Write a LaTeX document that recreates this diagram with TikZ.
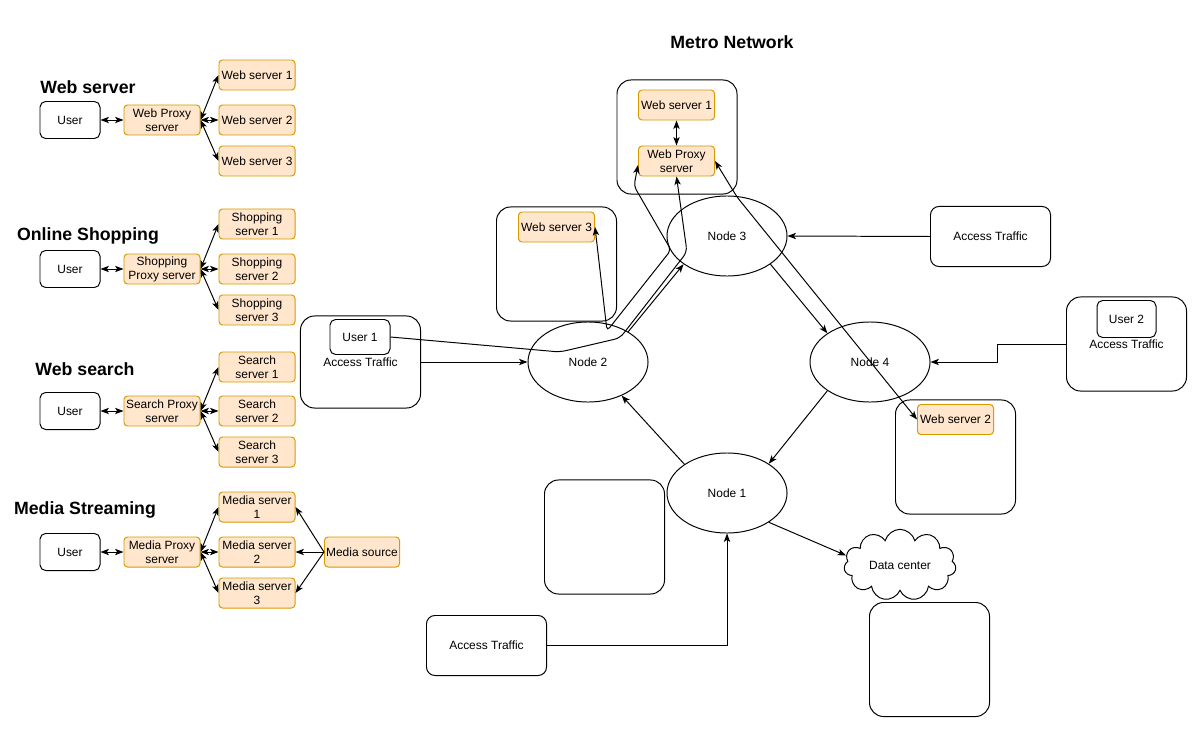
\documentclass[tikz,border=0pt]{standalone}
\usepackage{fontspec}
\setmainfont{Liberation Sans}
\usetikzlibrary{arrows.meta,shapes.geometric,shapes.symbols}
\definecolor{srvfill}{HTML}{FFE6CC}
\definecolor{srvline}{HTML}{D79B00}

\begin{document}
\begin{tikzpicture}[x=0.025cm, y=-0.025cm, line width=0.7pt,
  every node/.style={font=\fontsize{8.5}{10}\selectfont, align=center, inner sep=1pt},
  title/.style={font=\fontsize{12.6}{14}\selectfont\bfseries},
  userbox/.style={draw, rounded corners=4pt, fill=white, minimum width=1.5cm, minimum height=0.925cm},
  srv/.style={draw=srvline, fill=srvfill, rounded corners=2.5pt, minimum width=1.9cm, minimum height=0.75cm},
  site/.style={draw, rounded corners=10pt, fill=white, minimum width=3cm, minimum height=2.85cm},
  access/.style={draw, rounded corners=6pt, fill=white, minimum width=3cm, minimum height=1.5cm},
  metro/.style={draw, ellipse, minimum width=3cm, minimum height=2cm, inner sep=0pt},
  arr/.style={-{Stealth[length=6pt,width=4.5pt,inset=1.5pt]}},
  biarr/.style={{Stealth[length=6pt,width=4.5pt,inset=1.5pt]}-{Stealth[length=6pt,width=4.5pt,inset=1.5pt]}}]
  \useasboundingbox (0,0) rectangle (1200,728);

  % Web server group
  \node[title] (webtitle) at (88,87) {Web server};
  \node[userbox] (webuser) at (70,120) {User};
  \node[srv] (webproxy) at (162,120) {Web Proxy\\server};
  \draw[biarr] (webuser.east) -- (webproxy.west);
  \foreach \i/\y in {1/75,2/120,3/161}{
    \node[srv] (websrv\i) at (257,\y) {Web server \i};
    \draw[biarr] (webproxy.east) -- (websrv\i.west);
  }

  % Online shopping group
  \node[title] (shoptitle) at (88,236) {Online Shopping};
  \node[userbox] (shopuser) at (70,269) {User};
  \node[srv] (shopproxy) at (162,269) {Shopping\\Proxy server};
  \draw[biarr] (shopuser.east) -- (shopproxy.west);
  \foreach \i/\y in {1/224,2/269,3/310}{
    \node[srv] (shopsrv\i) at (257,\y) {Shopping\\server \i};
    \draw[biarr] (shopproxy.east) -- (shopsrv\i.west);
  }

  % Web search group
  \node[title] (searchtitle) at (85,369) {Web search};
  \node[userbox] (searchuser) at (70,411) {User};
  \node[srv] (searchproxy) at (162,411) {Search Proxy\\server};
  \draw[biarr] (searchuser.east) -- (searchproxy.west);
  \foreach \i/\y in {1/367,2/411,3/452}{
    \node[srv] (searchsrv\i) at (257,\y) {Search\\server \i};
    \draw[biarr] (searchproxy.east) -- (searchsrv\i.west);
  }

  % Media streaming group
  \node[title] (mediatitle) at (85,510) {Media Streaming};
  \node[userbox] (mediauser) at (70,552) {User};
  \node[srv] (mediaproxy) at (162,552) {Media Proxy\\server};
  \node[srv, minimum width=1.875cm] (mediasrc) at (362,552) {Media source};
  \draw[biarr] (mediauser.east) -- (mediaproxy.west);
  \foreach \i/\y in {1/507,2/552,3/593}{
    \node[srv] (mediasrv\i) at (257,\y) {Media server\\\i};
    \draw[biarr] (mediaproxy.east) -- (mediasrv\i.west);
    \draw[arr] (mediasrc.west) -- (mediasrv\i.east);
  }

  % Metro network
  \node[title] (metrotitle) at (732,42) {Metro Network};
  \node[site, minimum height=2.85cm] (sitetop) at (677,137) {};
  \node[srv] (mwsrv1) at (676.5,105) {Web server 1};
  \node[srv] (mproxy) at (676.5,161) {Web Proxy\\server};
  \node[site] (site3) at (556.5,264) {};
  \node[srv] (mwsrv3) at (556.5,227) {Web server 3};
  \node[site] (site2) at (955.5,457) {};
  \node[srv] (mwsrv2) at (955.5,419.5) {Web server 2};
  \node[site] (siteA) at (604.5,537) {};
  \node[site] (siteB) at (929.5,659.5) {};

  \node[metro] (n3) at (727,236) {Node 3};
  \node[metro] (n2) at (588,362) {Node 2};
  \node[metro] (n4) at (870,362) {Node 4};
  \node[metro] (n1) at (727,493) {Node 1};
  \node[draw, cloud, cloud puffs=11, aspect=1.6, minimum width=2.8cm,
        minimum height=1.75cm, inner sep=0pt, fill=white] (dc) at (900,565) {Data center};

  % Access traffic
  \node[access] (acc0) at (990.5,236.5) {Access Traffic};
  \node[access] (acc3) at (486.5,645.5) {Access Traffic};
  \node[site, minimum height=2.3cm] (acc1) at (360.5,362) {Access Traffic};
  \node[userbox, minimum height=0.875cm] (user1) at (360,337) {User 1};
  \node[site, minimum height=2.35cm] (acc2) at (1126.5,344) {Access Traffic};
  \node[userbox, minimum width=1.475cm] (user2) at (1126.5,319) {User 2};

  \draw[biarr] (mwsrv1.south) -- (mproxy.north);
  \draw[arr] (acc0.west) -- (n3.east);
  \draw[arr] (acc1.east) -- (n2.west);
  \draw[arr] (acc2.west) -- ++(-69,0) |- (n4.east);
  \draw[arr] (acc3.east) -| (n1.south);

  % Ring links
  \draw[arr] (n2.37) -- (n3.213);
  \draw[arr] (n3.327) -- (n4.146);
  \draw[arr] (n4.214) -- (n1.35);
  \draw[arr] (n1.146) -- (n2.315);
  \draw[arr] (n1.325) -- (dc.170);

  % Routed paths to the web servers
  \draw[biarr, rounded corners=3pt] (mwsrv3.east) -- (607,331) -- (671,250)
    -- (634,186) -- ([yshift=-0.1cm]mproxy.west);
  \draw[arr, rounded corners=4pt] (user1.east) -- (560,352) -- (620,338)
    -- (687,252) -- (mproxy.south);
  \draw[biarr, rounded corners=3pt] (mproxy.east) -- (737,197) -- (mwsrv2.west);
\end{tikzpicture}
\end{document}
